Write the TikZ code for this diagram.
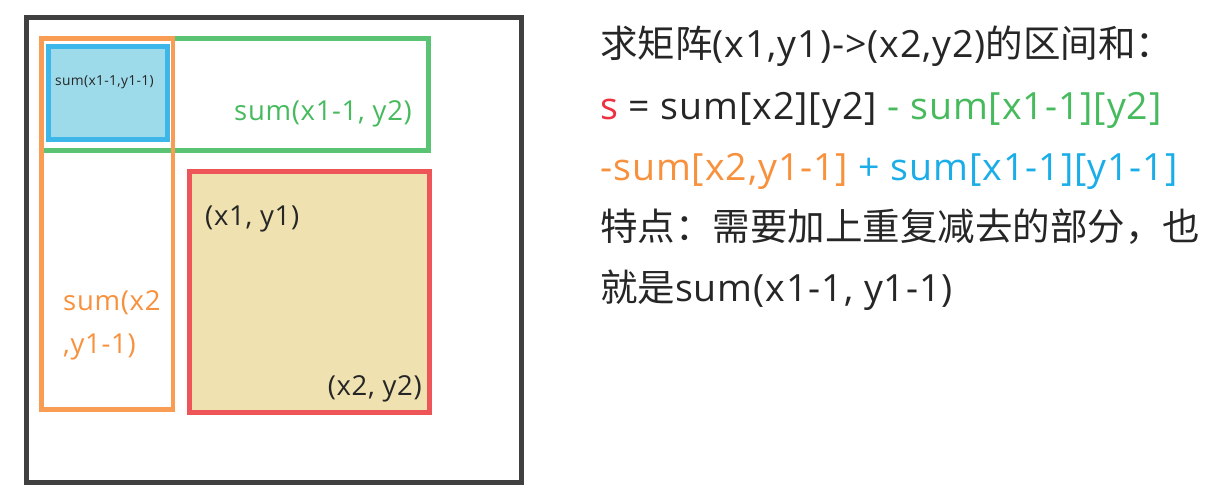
\documentclass[tikz,border=0pt]{standalone}
\usepackage{fontspec}
\setmainfont{Open Sans}[LetterSpace=2.5]
\newfontfamily\cjkfont{Noto Sans CJK SC}
\definecolor{frameGray}{HTML}{404040}
\definecolor{sumOrange}{HTML}{F99D55}
\definecolor{txtOrange}{HTML}{F7913D}
\definecolor{sumGreen}{HTML}{5BC474}
\definecolor{txtGreen}{HTML}{47BA5E}
\definecolor{sumBlue}{HTML}{3DB6EA}
\definecolor{fillBlue}{HTML}{9DDAEA}
\definecolor{txtBlue}{HTML}{1AADE8}
\definecolor{sumRed}{HTML}{EE5558}
\definecolor{fillKhaki}{HTML}{EFE2B0}
\definecolor{txtRed}{HTML}{EE3040}
\definecolor{txtDark}{HTML}{262626}
\begin{document}
\begin{tikzpicture}[
       x=1pt, y=-1pt,
       region/.style={line width=4.5pt},
       lbl/.style={inner sep=0pt, anchor=base west, text=txtDark, font=\fontsize{27.5}{32}\selectfont},
       formula/.style={inner sep=0pt, anchor=base west, text=txtDark, font=\fontsize{37.5}{44}\selectfont}
   ]
   \useasboundingbox (0,0) rectangle (1213,503);
   % matrix and sub-regions
   \draw[line width=5pt, frameGray] (26,18) rectangle (521,482);
   \draw[region, sumGreen] (41.5,38.5) rectangle (428.5,150.5);
   \draw[region, sumOrange] (41.5,38.5) rectangle (173,409.5);
   \draw[region, sumBlue, fill=fillBlue] (48.5,46.5) rectangle (167.5,139.5);
   \draw[region, sumRed, fill=fillKhaki] (189.5,171.5) rectangle (429.5,412.5);

   \node[lbl, font=\fontsize{13.8}{16}\selectfont] (corner) at (55,85) {sum(x1-1,y1-1)};
   \node[lbl, anchor=base east, text=txtGreen] (top) at (412,121) {sum(x1-1, y2)};
   \node[lbl, text=txtOrange] (left1) at (63,310) {sum(x2};
   \node[lbl, text=txtOrange] (left2) at (63,353) {,y1-1)};
   \node[lbl] (p1) at (205,225) {(x1, y1)};
   \node[lbl, anchor=base east] (p2) at (422,395) {(x2, y2)};

   % explanation
   \node[formula] (line1) at (600,58) {{\cjkfont 求矩阵}(x1,y1)->(x2,y2){\cjkfont 的区间和：}};
   \node[formula] (line2) at (600,119) {{\color{txtRed}s} = sum[x2][y2] {\color{txtGreen}- sum[x1-1][y2]}};
   \node[formula] (line3) at (600,180) {{\color{txtOrange}-sum[x2,y1-1]} {\color{txtBlue}+ sum[x1-1][y1-1]}};
   \node[formula] (line4) at (600,240) {\cjkfont 特点：需要加上重复减去的部分，也};
   \node[formula] (line5) at (600,301) {{\cjkfont 就是}sum(x1-1, y1-1)};
   \end{tikzpicture}
\end{document}
